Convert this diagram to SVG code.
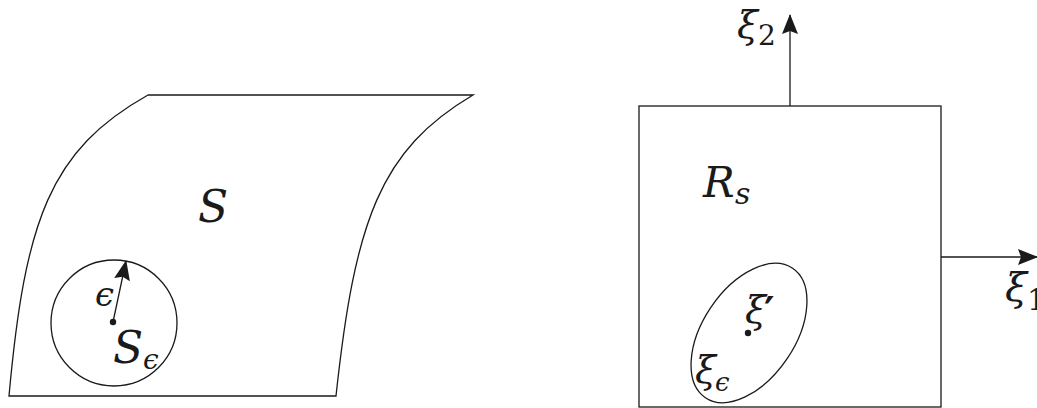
<svg xmlns="http://www.w3.org/2000/svg" width="1037" height="408" viewBox="0 0 1037 408">
<style>
.ln{fill:none;stroke:#1a1a1a;stroke-width:1.3}
.t{font-family:"DejaVu Serif",serif;font-style:italic;fill:#1a1a1a}
.u{font-style:normal}
.p{font-family:"DejaVu Sans","Noto Sans",sans-serif;font-style:normal;font-weight:bold}
</style>
<defs>
<marker id="ah" viewBox="0 0 20 16" refX="19" refY="8" markerWidth="20" markerHeight="16" markerUnits="userSpaceOnUse" orient="auto">
<path d="M0,0 L20,8 L0,16 L3,8 Z" fill="#1a1a1a"/>
</marker>
</defs>
<rect width="1037" height="408" fill="#fff"/>
<g id="surface">
<path class="ln" d="M148,95 L473,95 C380,150 355,220 336,396 L9,396 C25,220 50,150 148,95 Z"/>
<text class="t" x="198" y="222" font-size="44">S</text>
</g>
<g id="disc">
<circle class="ln" cx="114" cy="323" r="63"/>
<circle cx="113" cy="322" r="3.2" fill="#1a1a1a"/>
<text class="t" x="95" y="306" font-size="34">ϵ</text>
<text class="t" x="113" y="363" font-size="44">S<tspan x="143" y="369" font-size="28">ϵ</tspan></text>
</g>
<g id="region">
<rect class="ln" x="639" y="106" width="302" height="301"/>
<text class="t" x="703" y="197" font-size="42">R<tspan x="735" y="204" font-size="30">s</tspan></text>
</g>
<g id="neighbourhood">
<ellipse class="ln" cx="749" cy="333" rx="78" ry="46" transform="rotate(-56 749 333)"/>
<circle cx="748" cy="333" r="3.2" fill="#1a1a1a"/>
<text class="t" x="745" y="323" font-size="38">ξ</text>
<text class="t p" x="764" y="326" font-size="40">′</text>
<text class="t" x="695" y="383" font-size="38">ξ<tspan x="715" y="391" font-size="26">ϵ</tspan></text>
</g>
<g id="axes">
<text class="t" x="737" y="38" font-size="38">ξ<tspan class="u" x="758" y="45" font-size="28">2</tspan></text>
<text class="t" x="1005" y="301" font-size="40">ξ<tspan class="u" x="1027" y="310" font-size="30">1</tspan></text>
</g>
<g id="connectors">
<line class="ln" x1="113" y1="322" x2="126" y2="261" marker-end="url(#ah)"/>
<line class="ln" x1="790" y1="106" x2="790" y2="15" marker-end="url(#ah)"/>
<line class="ln" x1="941" y1="257" x2="1037" y2="257" marker-end="url(#ah)"/>
</g>
</svg>
